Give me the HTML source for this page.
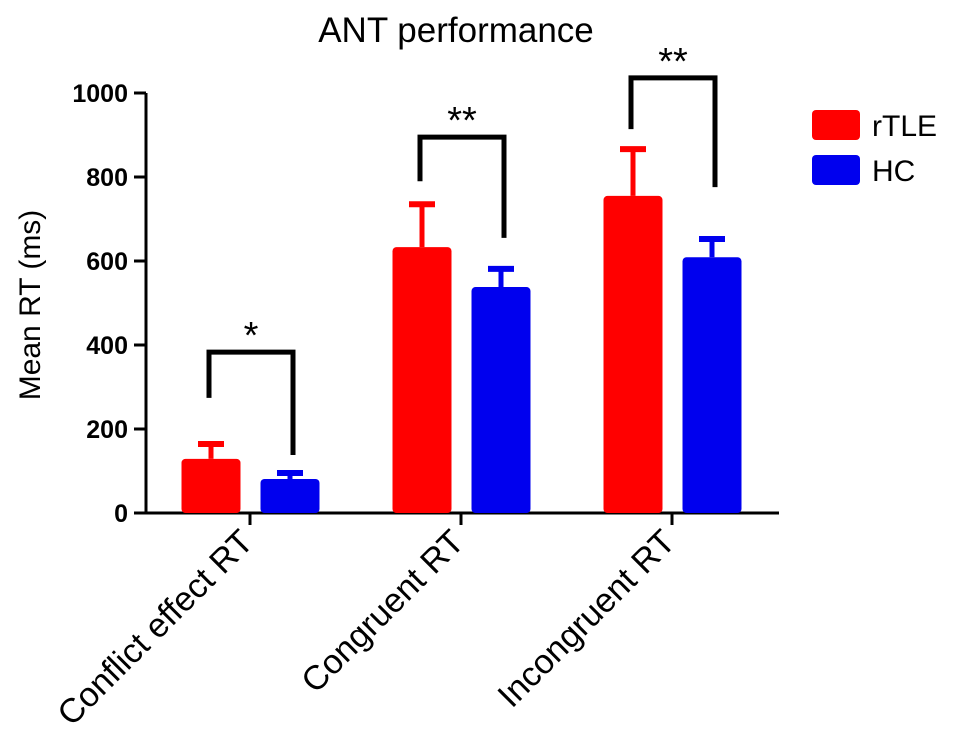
<!DOCTYPE html>
<html><head><meta charset="utf-8"><style>body{margin:0;background:#fff}svg{display:block}text{font-family:"Liberation Sans",Arial,sans-serif}</style></head>
<body>
<svg id="chart" width="969" height="751" viewBox="0 0 969 751" xmlns="http://www.w3.org/2000/svg">
<text x="456" y="42" font-size="35" text-anchor="middle">ANT performance</text>
<text transform="translate(40,305) rotate(-90)" font-size="30" text-anchor="middle">Mean RT (ms)</text>
<g id="axes"></g><g id="bars"></g><g id="sig"></g>
<g>
<rect x="812" y="110" width="48" height="30" rx="4" fill="#ff0000"/>
<text x="872" y="136" font-size="30">rTLE</text>
<rect x="812" y="155" width="48" height="30" rx="4" fill="#0000ee"/>
<text x="872" y="181" font-size="30">HC</text>
</g>
</svg>
<script>
const categories = ["Conflict effect RT", "Congruent RT", "Incongruent RT"];
const rtleMeans = [129, 633, 755];
const rtleErr = [40, 107, 116];
const hcMeans = [81, 538, 609];
const hcErr = [19, 48, 48];
const yTicks = [0, 200, 400, 600, 800, 1000];
const sigLabels = ["*", "**", "**"];
const bracketTop = [383, 895, 1036];
const bracketLeftEnd = [274, 790, 914];
const bracketRightEnd = [138, 655, 776];

const NS = "http://www.w3.org/2000/svg";
const y0 = 513, pxPer = 0.42;
function yScale(v){ return y0 - v * pxPer; }
function xCenter(i){ return 250 + i * 211; }
function mk(tag, attrs, parent){ const e=document.createElementNS(NS,tag); for(const k in attrs) e.setAttribute(k,attrs[k]); parent.appendChild(e); return e; }
const axes=document.getElementById('axes'), bars=document.getElementById('bars'), sig=document.getElementById('sig');

let yl = mk('line',{x1:146,y1:yScale(1000),x2:146,y2:y0+1,stroke:'#000','stroke-width':3},axes);


let xl = mk('line',{x1:134,y1:y0,x2:779,y2:y0,stroke:'#000','stroke-width':3},axes);


yTicks.forEach(t=>{
  const y=yScale(t);
  const tk=mk('line',{x1:134,y1:y,x2:146,y2:y,stroke:'#000','stroke-width':3},axes);
  
  
  const tl=mk('text',{x:128,y:y+9,'font-size':25,'font-weight':'bold','text-anchor':'end'},axes);
  tl.textContent=t;
  
  
});

function bar(cx, v, e, color, name){
  const w=59, top=yScale(v), et=yScale(v+e);
  const g=mk('g',{},bars);
  
  
  mk('line',{x1:cx,y1:et,x2:cx,y2:top,stroke:color,'stroke-width':5},g);
  mk('line',{x1:cx-13,y1:et+2,x2:cx+13,y2:et+2,stroke:color,'stroke-width':6},g);
  mk('rect',{x:cx-w/2,y:top,width:w,height:y0-top,rx:4,fill:color},g);
}
categories.forEach((c,i)=>{
  const xc=xCenter(i);
  bar(xc-39, rtleMeans[i], rtleErr[i], '#ff0000', 'bar-rtle-'+i);
  bar(xc+40, hcMeans[i], hcErr[i], '#0000ee', 'bar-hc-'+i);
  const tk=mk('line',{x1:xc,y1:y0,x2:xc,y2:y0+12,stroke:'#000','stroke-width':3},axes);
  
  
  const lb=mk('text',{'font-size':34,'text-anchor':'end',transform:`translate(${xc+5},${y0+31}) rotate(-45)`},axes);
  lb.textContent=c;
  
  
  const lx=xc-41, rx=xc+43;
  const top=yScale(bracketTop[i]);
  const br=mk('path',{d:`M${lx},${yScale(bracketLeftEnd[i])} V${top} H${rx} V${yScale(bracketRightEnd[i])}`,fill:'none',stroke:'#000','stroke-width':5},sig);
  
  
  const st=mk('text',{x:(lx+rx)/2,y:top-4,'font-size':38,'text-anchor':'middle'},sig);
  st.textContent=sigLabels[i];
  
  
});
</script>
</body></html>
